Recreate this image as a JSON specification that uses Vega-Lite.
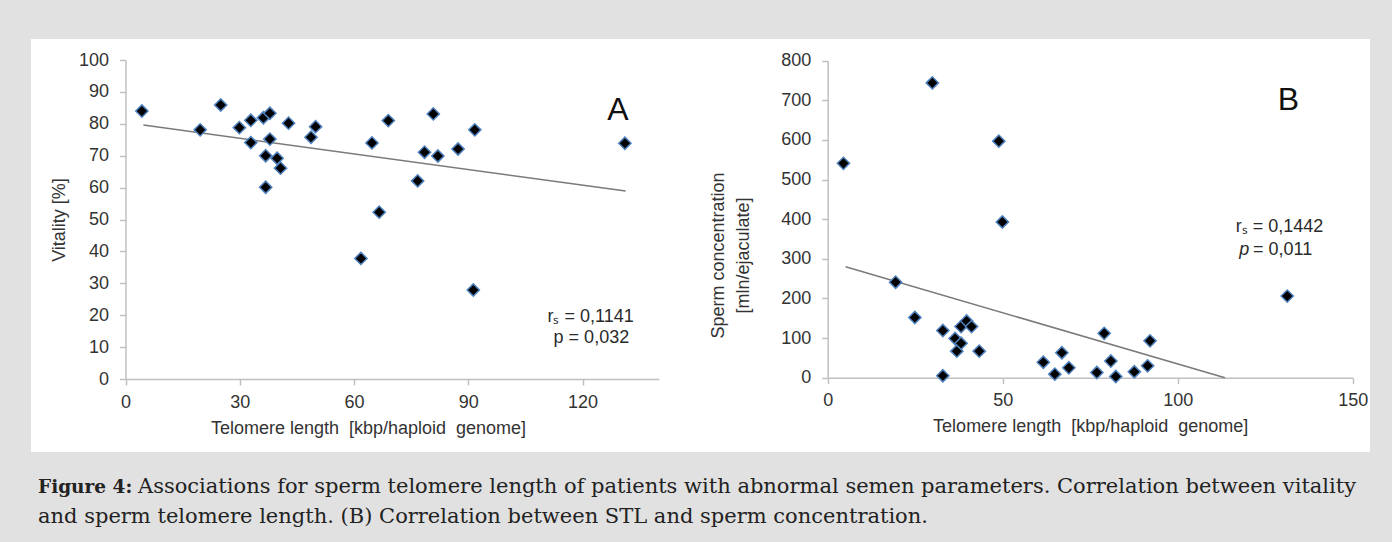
{
  "$schema": "https://vega.github.io/schema/vega-lite/v6.json",
  "background": "#e1e1e1",
  "padding": {"left": 31, "top": 39, "right": 22, "bottom": 0},
  "autosize": {"type": "pad"},
  "spacing": 0,
  "config": {
    "font": "Liberation Sans",
    "view": {"stroke": null},
    "axis": {
      "grid": false,
      "domainColor": "#c0c0c0",
      "domainWidth": 1.5,
      "tickColor": "#c0c0c0",
      "tickWidth": 1.5,
      "tickSize": 6,
      "labelFont": "Liberation Sans",
      "labelFontSize": 18,
      "labelColor": "#333333",
      "labelFlush": false,
      "labelOverlap": false,
      "titleFont": "Liberation Sans",
      "titleFontSize": 18,
      "titleFontWeight": "normal",
      "titleColor": "#333333"
    }
  },
  "datasets": {
    "vitality": [
      {"tl": 4.3, "v": 84.0}, {"tl": 19.6, "v": 78.1}, {"tl": 25.0, "v": 85.9}, {"tl": 29.9, "v": 78.8},
      {"tl": 32.9, "v": 81.1}, {"tl": 32.9, "v": 74.1}, {"tl": 36.2, "v": 81.9}, {"tl": 37.9, "v": 83.3},
      {"tl": 37.9, "v": 75.2}, {"tl": 36.8, "v": 70.0}, {"tl": 39.8, "v": 69.2}, {"tl": 40.7, "v": 66.1},
      {"tl": 36.8, "v": 60.1}, {"tl": 42.8, "v": 80.2}, {"tl": 48.7, "v": 75.8}, {"tl": 49.9, "v": 79.1},
      {"tl": 64.7, "v": 74.0}, {"tl": 69.0, "v": 81.0}, {"tl": 66.6, "v": 52.3}, {"tl": 80.8, "v": 83.1},
      {"tl": 91.7, "v": 78.1}, {"tl": 78.5, "v": 71.1}, {"tl": 82.0, "v": 69.9}, {"tl": 87.3, "v": 72.1},
      {"tl": 76.7, "v": 62.1}, {"tl": 131.1, "v": 73.9}, {"tl": 61.8, "v": 37.8}, {"tl": 91.3, "v": 27.9}
    ],
    "vitalityFit": [{"tl": 4.7, "v": 79.6}, {"tl": 131.3, "v": 58.9}],
    "conc": [
      {"tl": 4.5, "c": 541}, {"tl": 29.9, "c": 744}, {"tl": 48.9, "c": 597}, {"tl": 49.9, "c": 393},
      {"tl": 19.4, "c": 241}, {"tl": 24.9, "c": 152}, {"tl": 32.9, "c": 119}, {"tl": 32.9, "c": 5},
      {"tl": 36.4, "c": 99}, {"tl": 36.9, "c": 67}, {"tl": 38.1, "c": 129}, {"tl": 38.1, "c": 87},
      {"tl": 39.7, "c": 143}, {"tl": 41.1, "c": 129}, {"tl": 43.3, "c": 67}, {"tl": 61.6, "c": 39},
      {"tl": 64.9, "c": 9}, {"tl": 66.9, "c": 63}, {"tl": 68.9, "c": 25}, {"tl": 76.9, "c": 13},
      {"tl": 79.0, "c": 112}, {"tl": 80.9, "c": 42}, {"tl": 82.3, "c": 3}, {"tl": 87.6, "c": 15},
      {"tl": 91.4, "c": 30}, {"tl": 92.1, "c": 93}, {"tl": 131.3, "c": 206}
    ],
    "concFit": [{"tl": 5.1, "c": 280}, {"tl": 113.5, "c": 0}]
  },
  "vconcat": [
    {
      "spacing": 0,
      "hconcat": [
        {
          "width": 659,
          "height": 413,
          "view": {"fill": "white", "stroke": null},
          "layer": [
            {"data": {"name": "vitalityFit"}, "mark": {"type": "line", "color": "#7a7a7a", "strokeWidth": 1.5},
              "encoding": {
                "x": {"field": "tl", "type": "quantitative",
                  "scale": {"domain": [0, 140], "range": [94.5, 627.8], "nice": false, "zero": false},
                  "axis": {"title": "Telomere length\u00a0 [kbp/haploid\u00a0 genome]", "values": [0, 30, 60, 90, 120], "offset": -73, "labelPadding": 8, "titlePadding": 8, "titleX": 337}},
                "y": {"field": "v", "type": "quantitative",
                  "scale": {"domain": [0, 100], "range": [340, 21], "nice": false, "zero": false},
                  "axis": {"title": "Vitality [%]", "values": [0, 10, 20, 30, 40, 50, 60, 70, 80, 90, 100], "offset": -94.5, "labelPadding": 11, "titlePadding": 10}}
              }},
            {"data": {"name": "vitality"}, "mark": {"type": "point", "shape": "diamond", "filled": true, "fill": "#000000", "stroke": "#4f81bd", "strokeWidth": 1.5, "size": 150, "opacity": 1},
              "encoding": {"x": {"field": "tl", "type": "quantitative"}, "y": {"field": "v", "type": "quantitative"}}},
            {"data": {"values": [{"label": "A"}]}, "mark": {"type": "text", "fontSize": 32, "color": "#111111", "font": "Liberation Sans"},
              "encoding": {"x": {"datum": 129.3, "type": "quantitative"}, "y": {"datum": 84.3, "type": "quantitative"}, "text": {"field": "label"}}},
            {"data": {"values": [{"label": "rₛ = 0,1141"}]}, "mark": {"type": "text", "fontSize": 18, "color": "#2a2a2a", "font": "Liberation Sans"},
              "encoding": {"x": {"datum": 122.1, "type": "quantitative"}, "y": {"datum": 19.5, "type": "quantitative"}, "text": {"field": "label"}}},
            {"data": {"values": [{"label": "p = 0,032"}]}, "mark": {"type": "text", "fontSize": 18, "color": "#2a2a2a", "font": "Liberation Sans"},
              "encoding": {"x": {"datum": 122.3, "type": "quantitative"}, "y": {"datum": 12.8, "type": "quantitative"}, "text": {"field": "label"}}}
          ]
        },
        {
          "width": 680,
          "height": 413,
          "view": {"fill": "white", "stroke": null},
          "layer": [
            {"data": {"name": "concFit"}, "mark": {"type": "line", "color": "#7a7a7a", "strokeWidth": 1.5},
              "encoding": {
                "x": {"field": "tl", "type": "quantitative",
                  "scale": {"domain": [0, 150], "range": [137.7, 662.7], "nice": false, "zero": false},
                  "axis": {"title": "Telomere length\u00a0 [kbp/haploid\u00a0 genome]", "values": [0, 50, 100, 150], "offset": -74.3, "labelPadding": 8, "titlePadding": 8}},
                "y": {"field": "c", "type": "quantitative",
                  "scale": {"domain": [0, 800], "range": [338.7, 21.7], "nice": false, "zero": false},
                  "axis": {"title": ["Sperm concentration", "[mln/ejaculate]"], "values": [0, 100, 200, 300, 400, 500, 600, 700, 800], "offset": -137.7, "labelPadding": 11, "titlePadding": 28, "titleLineHeight": 25, "titleY": 216}}
              }},
            {"data": {"name": "conc"}, "mark": {"type": "point", "shape": "diamond", "filled": true, "fill": "#000000", "stroke": "#4f81bd", "strokeWidth": 1.5, "size": 150, "opacity": 1},
              "encoding": {"x": {"field": "tl", "type": "quantitative"}, "y": {"field": "c", "type": "quantitative"}}},
            {"data": {"values": [{"label": "B"}]}, "mark": {"type": "text", "fontSize": 32, "color": "#111111", "font": "Liberation Sans"},
              "encoding": {"x": {"datum": 131.6, "type": "quantitative"}, "y": {"datum": 700.8, "type": "quantitative"}, "text": {"field": "label"}}},
            {"data": {"values": [{"label": "rₛ = 0,1442"}]}, "mark": {"type": "text", "fontSize": 18, "color": "#2a2a2a", "font": "Liberation Sans"},
              "encoding": {"x": {"datum": 129.1, "type": "quantitative"}, "y": {"datum": 381, "type": "quantitative"}, "text": {"field": "label"}}},
            {"data": {"values": [{"label": "p"}]}, "mark": {"type": "text", "fontSize": 18, "color": "#2a2a2a", "font": "Liberation Sans", "fontStyle": "italic", "align": "left"},
              "encoding": {"x": {"datum": 117.6, "type": "quantitative"}, "y": {"datum": 322, "type": "quantitative"}, "text": {"field": "label"}}},
            {"data": {"values": [{"label": "= 0,011"}]}, "mark": {"type": "text", "fontSize": 18, "color": "#2a2a2a", "font": "Liberation Sans", "align": "left"},
              "encoding": {"x": {"datum": 121.5, "type": "quantitative"}, "y": {"datum": 322, "type": "quantitative"}, "text": {"field": "label"}}}
          ]
        }
      ]
    },
    {
      "width": 1339,
      "height": 90,
      "view": {"fill": null, "stroke": null},
      "layer": [
        {"data": {"values": [{"t": "Figure 4:"}]},
          "mark": {"type": "text", "font": "DejaVu Serif", "fontSize": 18.5, "fontWeight": "bold", "color": "#222222", "align": "left", "baseline": "middle"},
          "encoding": {"x": {"value": 7}, "y": {"value": 35}, "text": {"field": "t"}}},
        {"data": {"values": [{"t": "Associations for sperm telomere length of patients with abnormal semen parameters. Correlation between vitality"}]},
          "mark": {"type": "text", "font": "DejaVu Serif", "fontSize": 21, "color": "#222222", "align": "left", "baseline": "middle", "dx": 100},
          "encoding": {"x": {"value": 7}, "y": {"value": 35}, "text": {"field": "t"}}},
        {"data": {"values": [{"t": "and sperm telomere length. (B) Correlation between STL and sperm concentration."}]},
          "mark": {"type": "text", "font": "DejaVu Serif", "fontSize": 21, "color": "#222222", "align": "left", "baseline": "middle"},
          "encoding": {"x": {"value": 7}, "y": {"value": 65}, "text": {"field": "t"}}}
      ]
    }
  ]
}
